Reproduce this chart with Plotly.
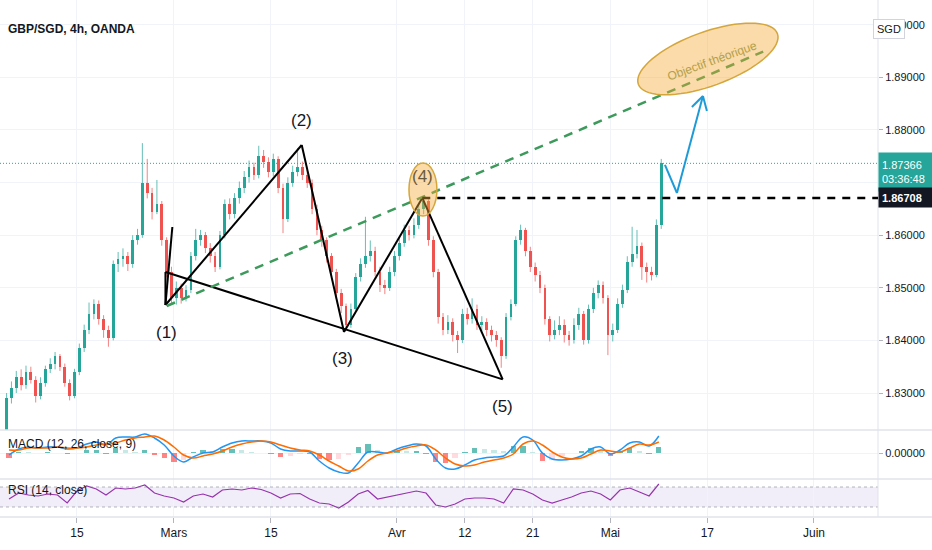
import numpy as np
import plotly.graph_objects as go
from plotly.subplots import make_subplots

# x axis = trading days (weekends dropped), day 0 = Thu 4 Feb 2021
tick_days = [7, 17, 27, 40, 47, 54, 62, 72, 83]
tick_labels = ["15", "Mars", "15", "Avr", "12", "21", "Mai", "17", "Juin"]

# GBP/SGD, two candles per trading day
first_open = 1.8200
closes = [
    1.8290, 1.8310, 1.8330, 1.8315, 1.8340, 1.8325, 1.8295, 1.8320,
    1.8345, 1.8355, 1.8370, 1.8350, 1.8320, 1.8295, 1.8340, 1.8385,
    1.8420, 1.8450, 1.8470, 1.8440, 1.8420, 1.8405, 1.8545, 1.8555,
    1.8560, 1.8545, 1.8590, 1.8600, 1.8700, 1.8680, 1.8645, 1.8660,
    1.8590, 1.8530, 1.8480, 1.8500, 1.8480, 1.8495, 1.8560, 1.8590,
    1.8600, 1.8575, 1.8560, 1.8540, 1.8600, 1.8660, 1.8640, 1.8670,
    1.8690, 1.8710, 1.8730, 1.8715, 1.8750, 1.8740, 1.8720, 1.8745,
    1.8690, 1.8630, 1.8700, 1.8720, 1.8730, 1.8715, 1.8700, 1.8650,
    1.8610, 1.8590, 1.8560, 1.8530, 1.8490, 1.8465, 1.8430, 1.8460,
    1.8520, 1.8545, 1.8560, 1.8570, 1.8530, 1.8505, 1.8500, 1.8530,
    1.8560, 1.8585, 1.8610, 1.8600, 1.8620, 1.8650, 1.8665, 1.8590,
    1.8530, 1.8445, 1.8420, 1.8435, 1.8410, 1.8400, 1.8450, 1.8440,
    1.8460, 1.8430, 1.8435, 1.8420, 1.8410, 1.8400, 1.8370, 1.8445,
    1.8470, 1.8590, 1.8610, 1.8570, 1.8540, 1.8525, 1.8500, 1.8440,
    1.8410, 1.8420, 1.8430, 1.8410, 1.8400, 1.8430, 1.8450, 1.8400,
    1.8460, 1.8490, 1.8505, 1.8480, 1.8410, 1.8420, 1.8470, 1.8495,
    1.8550, 1.8565, 1.8580, 1.8540, 1.8530, 1.8525, 1.8620, 1.8737,
]
highs = [
    1.8300, 1.8322, 1.8342, 1.8345, 1.8352, 1.8350, 1.8332, 1.8330,
    1.8352, 1.8366, 1.8378, 1.8374, 1.8356, 1.8326, 1.8346, 1.8394,
    1.8430, 1.8472, 1.8478, 1.8476, 1.8448, 1.8428, 1.8552, 1.8568,
    1.8575, 1.8568, 1.8600, 1.8612, 1.8775, 1.8745, 1.8690, 1.8705,
    1.8665, 1.8596, 1.8540, 1.8512, 1.8508, 1.8505, 1.8568, 1.8612,
    1.8610, 1.8606, 1.8585, 1.8568, 1.8608, 1.8668, 1.8670, 1.8680,
    1.8702, 1.8722, 1.8742, 1.8738, 1.8770, 1.8762, 1.8748, 1.8755,
    1.8750, 1.8698, 1.8710, 1.8732, 1.8765, 1.8740, 1.8724, 1.8706,
    1.8658, 1.8618, 1.8596, 1.8566, 1.8536, 1.8498, 1.8470, 1.8470,
    1.8528, 1.8556, 1.8635, 1.8590, 1.8578, 1.8540, 1.8515, 1.8540,
    1.8570, 1.8595, 1.8620, 1.8618, 1.8632, 1.8660, 1.8672, 1.8668,
    1.8598, 1.8536, 1.8452, 1.8448, 1.8442, 1.8418, 1.8460, 1.8462,
    1.8480, 1.8468, 1.8446, 1.8442, 1.8428, 1.8418, 1.8406, 1.8452,
    1.8478, 1.8598, 1.8620, 1.8614, 1.8578, 1.8548, 1.8532, 1.8506,
    1.8446, 1.8438, 1.8446, 1.8440, 1.8418, 1.8442, 1.8462, 1.8456,
    1.8468, 1.8500, 1.8514, 1.8512, 1.8486, 1.8432, 1.8480, 1.8506,
    1.8560, 1.8616, 1.8610, 1.8586, 1.8548, 1.8540, 1.8630, 1.8745,
]
lows = [
    1.8195, 1.8280, 1.8300, 1.8305, 1.8308, 1.8318, 1.8282, 1.8288,
    1.8312, 1.8338, 1.8345, 1.8342, 1.8312, 1.8286, 1.8290, 1.8334,
    1.8378, 1.8412, 1.8440, 1.8430, 1.8405, 1.8388, 1.8400, 1.8530,
    1.8540, 1.8532, 1.8538, 1.8582, 1.8595, 1.8670, 1.8630, 1.8640,
    1.8580, 1.8520, 1.8470, 1.8468, 1.8470, 1.8474, 1.8490, 1.8552,
    1.8580, 1.8566, 1.8548, 1.8530, 1.8535, 1.8594, 1.8630, 1.8632,
    1.8660, 1.8680, 1.8700, 1.8705, 1.8708, 1.8728, 1.8710, 1.8712,
    1.8680, 1.8604, 1.8625, 1.8692, 1.8712, 1.8705, 1.8690, 1.8640,
    1.8600, 1.8578, 1.8548, 1.8520, 1.8480, 1.8452, 1.8420, 1.8424,
    1.8455, 1.8512, 1.8538, 1.8550, 1.8522, 1.8492, 1.8488, 1.8494,
    1.8522, 1.8552, 1.8578, 1.8590, 1.8594, 1.8612, 1.8640, 1.8580,
    1.8520, 1.8432, 1.8410, 1.8412, 1.8398, 1.8376, 1.8395, 1.8430,
    1.8432, 1.8420, 1.8418, 1.8408, 1.8398, 1.8388, 1.8348, 1.8365,
    1.8438, 1.8465, 1.8582, 1.8560, 1.8530, 1.8512, 1.8490, 1.8430,
    1.8398, 1.8402, 1.8410, 1.8396, 1.8390, 1.8394, 1.8420, 1.8392,
    1.8394, 1.8452, 1.8480, 1.8470, 1.8372, 1.8398, 1.8414, 1.8462,
    1.8490, 1.8540, 1.8556, 1.8515, 1.8510, 1.8514, 1.8520, 1.8612,
]

# MACD (12, 26, close, 9), one value per trading day, in units of 0.001
macd_line = [
    -0.2, 0.4, 0.6, 0.5, 0.6, 0.6, 0.4, 0.5, 0.9, 1.1,
    0.8, 1.5, 1.6, 1.6, 1.9, 1.5, 0.8, -0.3, -0.9, -0.4,
    0.0, 0.1, 0.6, 1.0, 1.2, 1.2, 1.2, 1.0, 0.4, 0.2,
    0.2, 0.1, -0.8, -1.5, -1.9, -2.0, -1.0, 0.1, 0.1, 0.0,
    0.4, 0.7, 0.9, 0.7, -0.6, -1.5, -1.6, -1.2, -0.7, -0.5,
    -0.4, -0.3, 0.6, 1.6, 1.3, 0.0, -0.6, -0.7, -0.6, -0.3,
    0.4, 0.6, -0.1, 0.3, 1.0, 1.1, 0.7, 1.7,
]
signal_line = [
    0.3, 0.3, 0.5, 0.5, 0.5, 0.6, 0.5, 0.5, 0.6, 0.8,
    0.9, 1.0, 1.3, 1.5, 1.6, 1.7, 1.3, 0.6, -0.2, -0.5,
    -0.3, -0.1, 0.2, 0.6, 0.9, 1.1, 1.2, 1.1, 0.8, 0.5,
    0.3, 0.2, -0.2, -0.8, -1.3, -1.8, -1.6, -0.8, -0.2, 0.0,
    0.2, 0.5, 0.7, 0.8, 0.3, -0.5, -1.1, -1.3, -1.2, -0.9,
    -0.7, -0.5, -0.1, 0.9, 1.2, 0.8, 0.1, -0.4, -0.6, -0.5,
    -0.1, 0.3, 0.2, 0.1, 0.5, 0.9, 0.8, 1.1,
]
# RSI (14, close), one value per trading day
rsi = [
    46, 58, 54, 52, 56, 54, 38, 62, 72, 66,
    54, 68, 66, 68, 74, 58, 52, 48, 40, 52,
    56, 50, 64, 66, 64, 68, 65, 58, 48, 56,
    57, 46, 38, 36, 28, 40, 56, 63, 46, 50,
    54, 58, 62, 58, 34, 30, 36, 46, 48, 48,
    46, 38, 66, 64, 56, 44, 38, 44, 50, 58,
    62, 56, 44, 64, 68, 60, 52, 76,
]

last_price = 1.87366
countdown = "03:36:48"
level_4 = 1.86708

# drawings (day index, price), as placed on the chart
wave_points = {
    "1": (16.13, 1.84673), "2": (30.18, 1.87715), "3": (34.54, 1.84160),
    "4": (42.61, 1.86708), "5": (50.90, 1.83260),
}
wave_labels = {
    "1": (16.19, 1.84160), "2": (30.20, 1.88171), "3": (34.43, 1.83665),
    "4": (42.68, 1.87125), "5": (50.93, 1.82753),
}
wave_1_top = (16.13, 1.85300)
wave_1_spike = (16.84, 1.86156)
target_line = [(16.26, 1.84654), (77.76, 1.89489)]
target_center = (72.06, 1.89350)
arrow_path = [(67.63, 1.87335), (68.87, 1.86802), (71.55, 1.88646)]
arrow_head = [(70.41, 1.88437), (71.55, 1.88646), (71.96, 1.88361)]

# ---- geometry of the panes (pixels) ----
W, H = 932, 550
PLOT_W, PLOT_H = 878, 517
MAIN_H, MACD_H, RSI_H = 430, 49, 38
x_range = [-0.93, 89.6]
y_range = [1.82297, 1.90471]
px_day = PLOT_W / (x_range[1] - x_range[0])
px_price = MAIN_H / (y_range[1] - y_range[0])

UP, DOWN = "#26a69a", "#ef5350"
TEXT = "#131722"
GRID = "#f0f3fa"
SEP = "#e0e3eb"
FONT = "Liberation Sans, Arial, sans-serif"

opens = [first_open] + closes[:-1]
n = len(closes)
cx = [i * 0.5 - 0.25 for i in range(n)]
up = [c >= o for o, c in zip(opens, closes)]

fig = make_subplots(rows=3, cols=1, shared_xaxes=True, vertical_spacing=0,
                    row_heights=[MAIN_H, MACD_H, RSI_H])

# wicks
for flag, col in [(True, UP), (False, DOWN)]:
    wx, wy = [], []
    for i in range(n):
        if up[i] == flag:
            wx += [cx[i], cx[i], None]
            wy += [lows[i], highs[i], None]
    fig.add_trace(go.Scatter(x=wx, y=wy, mode="lines", line=dict(color=col, width=1),
                             opacity=0.7, hoverinfo="skip"), row=1, col=1)

# bodies
body_base = [min(o, c) for o, c in zip(opens, closes)]
body_len = [max(abs(c - o), 0.00008) for o, c in zip(opens, closes)]
fig.add_trace(go.Bar(x=cx, y=body_len, base=body_base, width=0.28,
                     marker=dict(color=[UP if u else DOWN for u in up], line_width=0)),
              row=1, col=1)

# MACD
days = list(range(len(macd_line)))
hist = [m - s for m, s in zip(macd_line, signal_line)]
hist_col = []
for i, h in enumerate(hist):
    prev = hist[i - 1] if i else 0
    if h >= 0:
        hist_col.append("#26a69a" if h >= prev else "#b2dfdb")
    else:
        hist_col.append("#ff5252" if h < prev else "#ffcdd2")
fig.add_trace(go.Bar(x=days, y=hist, width=0.55, marker=dict(color=hist_col, line_width=0),
                     opacity=0.7), row=2, col=1)
fig.add_trace(go.Scatter(x=days, y=macd_line, mode="lines",
                         line=dict(color="#2196f3", width=1.5, shape="spline")), row=2, col=1)
fig.add_trace(go.Scatter(x=days, y=signal_line, mode="lines",
                         line=dict(color="#ff6d00", width=1.5, shape="spline")), row=2, col=1)

# RSI
fig.add_trace(go.Scatter(x=days, y=rsi, mode="lines", line=dict(color="#9634ad", width=1.2)),
              row=3, col=1)

fig.update_xaxes(range=x_range, tickvals=tick_days, ticktext=tick_labels,
                 showgrid=True, gridcolor=GRID, zeroline=False, showline=False,
                 tickfont=dict(family=FONT, size=12, color=TEXT))
fig.update_xaxes(ticks="outside", ticklen=5, tickcolor="#b2b5be", row=3, col=1)

# 1.87000 sits under the last-price tag, so its label stays empty (gridline kept)
price_ticks = [1.83, 1.84, 1.85, 1.86, 1.87, 1.88, 1.89, 1.90]
price_text = ["" if v == 1.87 else "%.5f" % v for v in price_ticks]
fig.update_yaxes(side="right", zeroline=False, showline=False)
fig.update_yaxes(range=y_range, tickvals=price_ticks, ticktext=price_text,
                 showgrid=True, gridcolor=GRID, ticks="outside", ticklen=4, tickcolor="#b2b5be",
                 tickfont=dict(family=FONT, size=11, color=TEXT), row=1, col=1)
fig.update_yaxes(range=[-2.6, 2.3], tickvals=[0], ticktext=["0.00000"], showgrid=True,
                 gridcolor=GRID, ticks="outside", ticklen=4, tickcolor="#b2b5be",
                 tickfont=dict(family=FONT, size=11, color=TEXT), row=2, col=1)
fig.update_yaxes(range=[10, 86], showticklabels=False, showgrid=False, row=3, col=1)


def seg(p, q, color="black", width=2, dash=None):
    fig.add_shape(type="line", xref="x", yref="y", x0=p[0], y0=p[1], x1=q[0], y1=q[1],
                  line=dict(color=color, width=width, dash=dash))


# RSI band
fig.add_shape(type="rect", xref="x domain", yref="y3", x0=0, x1=1, y0=30, y1=70,
              fillcolor="rgba(126,87,194,0.1)", line_width=0, layer="below")
for lvl in (30, 70):
    fig.add_shape(type="line", xref="x domain", yref="y3", x0=0, x1=1, y0=lvl, y1=lvl,
                  line=dict(color="rgba(120,123,134,0.55)", width=1, dash="3px,3px"))

# last price dotted line
fig.add_shape(type="line", xref="x domain", yref="y", x0=0, x1=1, y0=last_price, y1=last_price,
              line=dict(color=UP, width=1, dash="1px,2px"), layer="below")

# pane separators
for yp in (1 - MAIN_H / PLOT_H, RSI_H / PLOT_H, 0):
    fig.add_shape(type="line", xref="paper", yref="paper", x0=0, x1=W / PLOT_W, y0=yp, y1=yp,
                  line=dict(color=SEP, width=1.5))
fig.add_shape(type="line", xref="paper", yref="paper", x0=1, x1=1, y0=0, y1=1,
              line=dict(color=SEP, width=1))

# wave drawing
p = wave_points
seg(wave_1_top, p["1"])
seg(p["1"], wave_1_spike)
seg(wave_1_top, p["5"])
seg(p["1"], p["2"])
seg(p["2"], p["3"])
seg(p["3"], p["4"])
seg(p["4"], p["5"])
seg(target_line[0], target_line[1], color="#3c9a5b", width=2.5, dash="9px,7px")
seg(p["4"], (x_range[1], level_4), color="black", width=2.5, dash="8px,7px")

# ellipse around (4)
fig.add_shape(type="circle", xref="x", yref="y", x0=41.24, x1=44.12, y0=1.86365, y1=1.87373,
              fillcolor="rgba(245,170,50,0.42)", line=dict(color="#d4a63c", width=1.5))

# rotated target ellipse
a_px, b_px, phi = 74, 27, np.radians(20)
t = np.linspace(0, 2 * np.pi, 73)
ex = target_center[0] + (a_px * np.cos(t) * np.cos(phi) - b_px * np.sin(t) * np.sin(phi)) / px_day
ey = target_center[1] + (a_px * np.cos(t) * np.sin(phi) + b_px * np.sin(t) * np.cos(phi)) / px_price
path = "M" + " L".join(f"{u:.4f},{v:.6f}" for u, v in zip(ex, ey)) + " Z"
fig.add_shape(type="path", xref="x", yref="y", path=path,
              fillcolor="rgba(245,170,50,0.42)", line=dict(color="#d4a63c", width=1.5))

# blue projection arrow
for q0, q1 in zip(arrow_path[:-1], arrow_path[1:]):
    seg(q0, q1, color="#1e9bd7", width=2)
for q0, q1 in zip(arrow_head[:-1], arrow_head[1:]):
    seg(q0, q1, color="#1e9bd7", width=2)


def px_note(text, x_px, y_px, size=12, **kw):
    fig.add_annotation(text=text, xref="paper", yref="paper", x=x_px / PLOT_W,
                       y=1 - y_px / PLOT_H, showarrow=False,
                       font=dict(family=FONT, size=size, color=kw.pop("color", TEXT)), **kw)


px_note("<b>GBP/SGD, 4h, OANDA</b>", 6, 20, size=12, xanchor="left")
px_note("MACD (12, 26, close, 9)", 6, 453, size=12, xanchor="left")
px_note("RSI (14, close)", 6, 499, size=12, xanchor="left")
px_note("SGD", 905, 19, size=11, bgcolor="white", bordercolor="#d1d4dc", borderwidth=1,
        borderpad=3)

for k, (lx, ly) in wave_labels.items():
    fig.add_annotation(text=f"({k})", x=lx, y=ly, xref="x", yref="y", showarrow=False,
                       font=dict(family=FONT, size=17, color="#6a5a3a" if k == "4" else TEXT))

fig.add_annotation(text="Objectif théorique", x=72.47, y=1.89312, xref="x", yref="y",
                   showarrow=False, textangle=-20,
                   font=dict(family=FONT, size=12, color="#b3a04a"))

# price scale labels
fig.add_annotation(text=f"{last_price:.5f}<br>{countdown}", xref="paper", yref="y", x=1,
                   y=1.87201, xanchor="left", showarrow=False, align="left", width=48, height=32,
                   bgcolor=UP, borderpad=3, font=dict(family=FONT, size=11, color="white"))
fig.add_annotation(text=f"<b>{level_4:.5f}</b>", xref="paper", yref="y", x=1, y=level_4,
                   xanchor="left", showarrow=False, align="left", width=48, height=13,
                   bgcolor=TEXT, borderpad=3, font=dict(family=FONT, size=11, color="white"))

fig.update_layout(width=W, height=H, margin=dict(l=0, r=W - PLOT_W, t=0, b=H - PLOT_H),
                  plot_bgcolor="white", paper_bgcolor="white", showlegend=False,
                  bargap=0, hovermode=False)

fig.write_html("out.html", config={"displayModeBar": False},
               post_script="document.body.style.margin='0';")
